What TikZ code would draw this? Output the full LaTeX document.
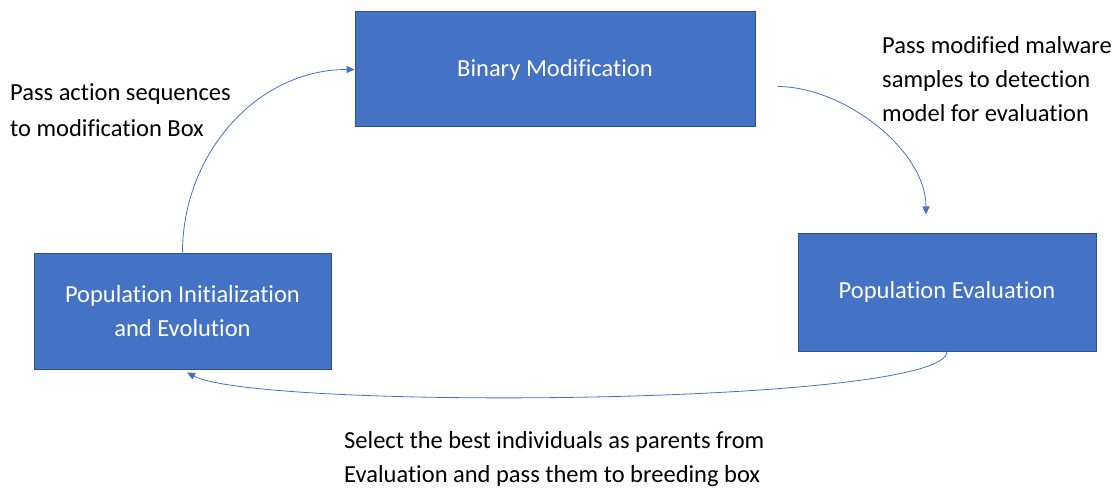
\documentclass[tikz,border=0pt]{standalone}
\usepackage{fontspec}
\setmainfont{Carlito}[Ligatures=NoCommon]
\usetikzlibrary{arrows.meta}

\definecolor{boxblue}{HTML}{4472C4}
\definecolor{boxedge}{HTML}{2F528F}

\tikzset{
  stagebox/.style={draw=boxedge, line width=1pt, fill=boxblue, text=white,
    align=center, inner sep=0pt, font=\fontsize{24.5}{34}\selectfont},
  flow/.style={draw=boxblue, line width=0.8pt,
    -{Triangle[length=8pt, width=7pt]}},
  note/.style={align=left, inner sep=0pt, anchor=base west,
    font=\fontsize{24.5}{34}\selectfont},
}

\begin{document}
\begin{tikzpicture}[x=1pt, y=1pt]

  \useasboundingbox (0,0) rectangle (1120,491);

  % --- Cajas del ciclo ---
  \node[stagebox, minimum width=400pt, minimum height=115pt] (bin)
    at (555,421.5) {Binary Modification};
  \node[stagebox, minimum width=297pt, minimum height=116pt] (init)
    at (182.5,180) {Population Initialization\\and Evolution};
  \node[stagebox, minimum width=298pt, minimum height=118pt] (eval)
    at (947,199) {Population Evaluation};

  % --- Extremos sueltos de las flechas ---
  \coordinate (binout) at ([xshift=22pt, yshift=-17pt]bin.east);
  \coordinate (evalin) at ([xshift=-21pt, yshift=18pt]eval.north);
  \coordinate (initin) at ([xshift=4.5pt, yshift=-3pt]init.south);

  % --- Flechas ---
  \draw[flow] (init.north) to[out=90, in=180] (bin.west);
  \draw[flow] (binout) to[out=0, in=90, looseness=0.85] (evalin);
  \draw[flow] (eval.south) .. controls +(0,-54) and +(73,-38) .. (initin);

  % --- Textos ---
  \node[note, font=\fontsize{24.5}{36}\selectfont] (seqtext) at (10,354)
    {Pass action sequences\\to modification Box};
  \node[note] (evaltext) at (882,369)
    {Pass modified malware\\samples to detection\\model for evaluation};
  \node[note] (breedtext) at (344,9)
    {Select the best individuals as parents from\\Evaluation and pass them to breeding box};

\end{tikzpicture}
\end{document}
